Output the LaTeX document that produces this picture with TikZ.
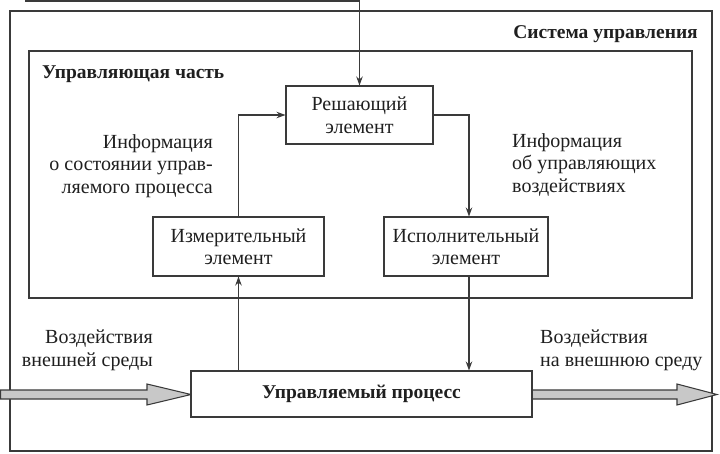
\documentclass[tikz,border=0pt]{standalone}
\usepackage{fontspec}
\setmainfont{Liberation Serif}
\usetikzlibrary{arrows.meta}
\newcommand\fsz{\fontsize{20}{22.5}\selectfont}
\newcommand\fbz{\fontsize{19.5}{22.5}\selectfont\bfseries}
\definecolor{ln}{HTML}{3A3A3A}
\definecolor{fillg}{HTML}{C8C8C8}
\begin{document}
\begin{tikzpicture}[x=1pt,y=-1pt,
  frame/.style={draw=ln, line width=1.05pt, inner sep=0pt},
  elem/.style={draw=ln, line width=1.05pt, fill=white, align=center, font=\fsz, inner sep=0pt, text=black!88},
  conn/.style={draw=ln, line width=1.05pt, -{Stealth[length=9pt,width=6.5pt]}},
  lbl/.style={font=\fsz, inner sep=0pt, text=black!88},
  bigarrow/.style={draw=ln, line width=1.05pt, fill=fillg, line join=miter},
]
\useasboundingbox (0,0) rectangle (720,453);
\fill[white] (0,0) rectangle (720,453);
% frames
\node[frame, minimum width=702pt, minimum height=440pt] (sys) at (361,231) {};
\node[frame, minimum width=663pt, minimum height=247pt] (ctrl) at (360.5,174.5) {};
% elements
\node[elem, minimum width=147pt, minimum height=58pt] (resh) at (359.5,115) {Решающий\\элемент};
\node[elem, minimum width=171pt, minimum height=59pt] (izm) at (238.5,246.5) {Измерительный\\элемент};
\node[elem, minimum width=164pt, minimum height=59pt] (isp) at (466,246.5) {Исполнительный\\элемент};
% big arrows
\draw[bigarrow] (0.6,390) -- (147,390) -- (147,384) -- (191,394.5) -- (147,405) -- (147,399) -- (0.6,399) -- cycle;
\draw[bigarrow] (532,390) -- (677,390) -- (677,384) -- (717,394.5) -- (677,405) -- (677,399) -- (532,399) -- cycle;
\node[elem, minimum width=341pt, minimum height=46pt, font=\fbz] (proc) at (361.5,394) {Управляемый процесс};
% connectors
\coordinate (topin) at (25,1);
\draw[conn] (topin) -| (resh.north);
\draw[conn] (izm.north) |- (resh.west);
\draw[conn] (resh.east) -| ([xshift=3pt]isp.north);
\draw[conn] ([xshift=3pt]isp.south) -- ([xshift=3pt]isp.south |- proc.north);
\draw[conn] (izm.south |- proc.north) -- (izm.south);
% labels
\node[lbl, font=\fbz, anchor=base east] (syslbl) at (698,38) {Система управления};
\node[lbl, font=\fbz, anchor=base west] (ctrllbl) at (42,78) {Управляющая часть};
\node[lbl, align=right, anchor=base east] (infoL) at (213,193) {Информация\\о состоянии управ-\\ляемого процесса};
\node[lbl, align=left, anchor=base west] (infoR) at (512,192) {Информация\\об управляющих\\воздействиях};
\node[lbl, align=right, anchor=base east] (extin) at (153,366) {Воздействия\\внешней среды};
\node[lbl, align=left, anchor=base west] (extout) at (540,366) {Воздействия\\на внешнюю среду};
\end{tikzpicture}
\end{document}
